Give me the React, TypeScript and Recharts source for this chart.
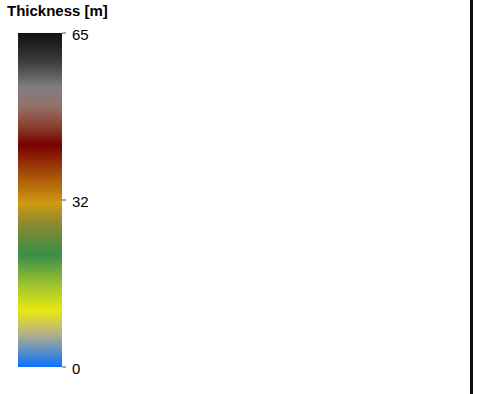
import { Bar, BarChart, XAxis, YAxis } from "recharts"

const categories = ["Thickness"]
const thickness = [65]
const tickValues = [0, 32.5, 65]
const tickLabels = ["0", "32", "65"]

// colour stops of the ramp, top (65 m) to bottom (0 m)
const rampOffsets = [0, 0.08, 0.165, 0.22, 0.28, 0.335, 0.51, 0.57, 0.665, 0.75, 0.83, 0.9, 1]
const rampColors = [
  "#111111", "#383838", "#808080", "#957068", "#8a4030", "#7a0000",
  "#d09a10", "#8a8a30", "#3a8e48", "#9ac030", "#e8e810", "#b8b088", "#0a70ff",
]

const data = categories.map((name, i) => ({ name, value: thickness[i] }))

const Tick = (props: any) => {
  const { x, y, payload } = props
  const idx = tickValues.indexOf(payload.value)
  return (
    <text x={x} y={y} dy={7} fill="#000" fontSize={15} textAnchor="start">
      {idx >= 0 ? tickLabels[idx] : payload.value}
    </text>
  )
}

export default function App() {
  return (
    <div style={{ position: "absolute", left: 0, top: 0, width: 477, height: 394, background: "#fff", fontFamily: "Arial, 'Liberation Sans', sans-serif" }}>
      <div style={{ position: "absolute", left: 7, top: 2, fontSize: 15, fontWeight: "bold", color: "#000" }}>
        Thickness [m]
      </div>
      <BarChart width={477} height={394} data={data} margin={{ top: 33, right: 355, bottom: 27, left: 18 }} barCategoryGap={0} barGap={0}>
        <defs>
          <linearGradient id="ramp" x1="0" y1="0" x2="0" y2="1">
            {rampOffsets.map((o, i) => (
              <stop key={i} offset={o} stopColor={rampColors[i]} />
            ))}
          </linearGradient>
        </defs>
        <XAxis dataKey="name" hide />
        <YAxis
          orientation="right"
          width={60}
          domain={[0, 65]}
          ticks={tickValues}
          axisLine={false}
          tickSize={4}
          tickMargin={6}
          tickLine={{ stroke: "#555" }}
          tick={<Tick />}
        />
        <Bar dataKey="value" fill="url(#ramp)" isAnimationActive={false} />
      </BarChart>
      <div style={{ position: "absolute", left: 470, top: 0, width: 3, height: 394, background: "#111" }} />
    </div>
  )
}
